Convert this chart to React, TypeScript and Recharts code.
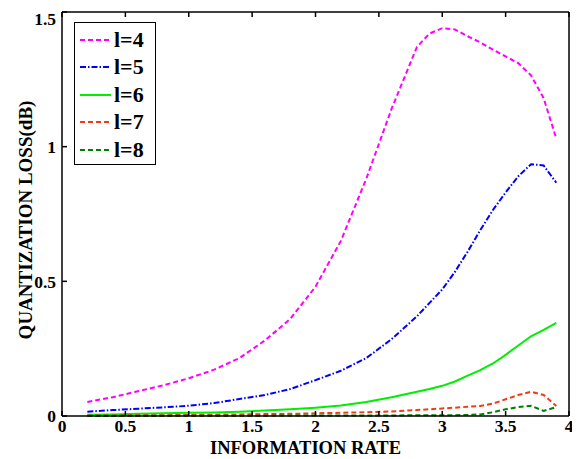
import { LineChart, Line, XAxis, YAxis } from 'recharts';

const rates = [0.2, 0.4, 0.6, 0.8, 1.0, 1.2, 1.4, 1.6, 1.8, 2.0, 2.2, 2.4, 2.6, 2.8, 2.9, 3.0, 3.1, 3.2, 3.3, 3.4, 3.5, 3.6, 3.7, 3.8, 3.9];

const lossL4 = [0.052, 0.07, 0.092, 0.114, 0.14, 0.172, 0.215, 0.28, 0.36, 0.48, 0.65, 0.88, 1.14, 1.37, 1.42, 1.44, 1.435, 1.41, 1.387, 1.36, 1.335, 1.31, 1.265, 1.18, 1.03];
const lossL5 = [0.016, 0.022, 0.027, 0.032, 0.038, 0.048, 0.063, 0.078, 0.1, 0.133, 0.168, 0.215, 0.285, 0.37, 0.42, 0.47, 0.535, 0.61, 0.69, 0.765, 0.83, 0.89, 0.935, 0.93, 0.866];
const lossL6 = [0.005, 0.006, 0.008, 0.01, 0.012, 0.013, 0.016, 0.02, 0.025, 0.031, 0.039, 0.052, 0.07, 0.09, 0.1, 0.112, 0.128, 0.15, 0.17, 0.195, 0.227, 0.262, 0.296, 0.32, 0.346];
const lossL7 = [0.002, 0.002, 0.003, 0.003, 0.004, 0.005, 0.006, 0.007, 0.008, 0.01, 0.012, 0.014, 0.017, 0.022, 0.025, 0.028, 0.031, 0.034, 0.037, 0.046, 0.062, 0.078, 0.09, 0.078, 0.037];
const lossL8 = [0.001, 0.001, 0.001, 0.001, 0.001, 0.001, 0.001, 0.001, 0.002, 0.002, 0.002, 0.002, 0.002, 0.003, 0.003, 0.003, 0.003, 0.004, 0.006, 0.014, 0.025, 0.033, 0.038, 0.019, 0.033];

const xTicks = [0, 0.5, 1, 1.5, 2, 2.5, 3, 3.5, 4];
const yTicks = [0, 0.5, 1, 1.5];

const series = [
  { key: 'l4', name: 'l=4', color: '#ff00ff', dash: '5 3' },
  { key: 'l5', name: 'l=5', color: '#0000ff', dash: '6 2 1.5 2' },
  { key: 'l6', name: 'l=6', color: '#00ee00', dash: undefined },
  { key: 'l7', name: 'l=7', color: '#f03c14', dash: '5 3' },
  { key: 'l8', name: 'l=8', color: '#008000', dash: '5 3' },
];

const data = rates.map((rate, i) => ({
  rate,
  l4: lossL4[i],
  l5: lossL5[i],
  l6: lossL6[i],
  l7: lossL7[i],
  l8: lossL8[i],
}));

const font = '"Liberation Serif", "Times New Roman", serif';
const tickStyle = { fill: '#000', fontSize: 17.5, fontWeight: 700, fontFamily: font };

function LegendBox() {
  return (
    <div style={{ position: 'absolute', left: 66, top: 14, width: 75, height: 138, border: '1.5px solid #000', background: '#fff', padding: '3px 0 0 5px', boxSizing: 'content-box' }}>
      {series.map((s) => (
        <div key={s.key} style={{ display: 'flex', alignItems: 'center', height: 27.5 }}>
          <svg width={32} height={10}>
            <line x1={0} y1={5} x2={31} y2={5} stroke={s.color} strokeWidth={2} strokeDasharray={s.dash} />
          </svg>
          <span style={{ fontFamily: font, fontWeight: 700, fontSize: 22, marginLeft: 2, color: '#000', lineHeight: '22px' }}>{s.name}</span>
        </div>
      ))}
    </div>
  );
}

export default function App() {
  return (
    <div style={{ position: 'relative', width: 572, height: 451, background: '#fff' }}>
      <LineChart width={572} height={451} data={data} margin={{ top: 3, right: 10, left: 0, bottom: 0 }}>
        <XAxis
          dataKey="rate"
          type="number"
          domain={[0, 4]}
          ticks={xTicks}
          height={43}
          tickSize={-5}
          tickMargin={9}
          stroke="#000"
          strokeWidth={1.5}
          tick={tickStyle}
          label={{
            content: ({ viewBox }: any) => (
              <text x={viewBox.x + viewBox.width / 2 - 10} y={viewBox.y + 38} textAnchor="middle" fontFamily={font} fontWeight={700} fontSize={18.5} fill="#000">
                INFORMATION RATE
              </text>
            ),
          }}
        />
        <XAxis
          xAxisId="top"
          orientation="top"
          dataKey="rate"
          type="number"
          domain={[0, 4]}
          ticks={xTicks}
          height={1}
          tickSize={-5}
          tickFormatter={() => ''}
          stroke="#000"
          strokeWidth={1.5}
        />
        <YAxis
          type="number"
          domain={[0, 1.5]}
          ticks={yTicks}
          width={54}
          tickSize={-5}
          tickMargin={11}
          stroke="#000"
          strokeWidth={1.5}
          tick={tickStyle}
          label={{
            content: ({ viewBox }: any) => {
              const cx = viewBox.x + 17;
              const cy = viewBox.y + viewBox.height / 2 + 6;
              return (
                <text x={cx} y={cy} textAnchor="middle" dominantBaseline="central" transform={`rotate(-90 ${cx} ${cy})`} fontFamily={font} fontWeight={700} fontSize={19} fill="#000">
                  QUANTIZATION LOSS(dB)
                </text>
              );
            },
          }}
        />
        <YAxis
          yAxisId="right"
          orientation="right"
          type="number"
          domain={[0, 1.5]}
          ticks={yTicks}
          width={1}
          tickSize={-5}
          tickFormatter={() => ''}
          stroke="#000"
          strokeWidth={1.5}
        />
        {series.map((s) => (
          <Line
            key={s.key}
            dataKey={s.key}
            name={s.name}
            stroke={s.color}
            strokeWidth={2}
            strokeDasharray={s.dash}
            dot={false}
            isAnimationActive={false}
          />
        ))}
      </LineChart>
      <LegendBox />
    </div>
  );
}
